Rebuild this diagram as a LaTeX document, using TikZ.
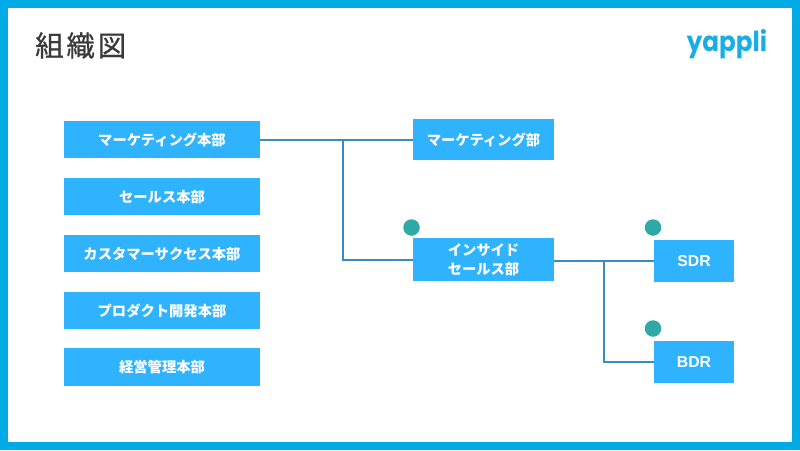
\documentclass[tikz,border=0pt]{standalone}
\usepackage{fontspec}
\setmainfont{Liberation Sans}
\newfontfamily\jpfont{Noto Sans CJK JP}
\newfontfamily\titlefont[FakeBold=0.6]{Noto Sans CJK JP}
\newfontfamily\logofont{Poppins}
\definecolor{frameblue}{HTML}{00AAE4}
\definecolor{boxblue}{HTML}{2FB3FF}
\definecolor{linkblue}{HTML}{3C8AC4}
\definecolor{dotteal}{HTML}{2FA9A5}
\definecolor{titlegrey}{HTML}{3A3A3A}
\definecolor{logoblue}{HTML}{19ADE6}
\tikzset{
 x=1pt,y=-1pt,
 orgbox/.style={fill=boxblue,draw=none,inner sep=0pt,outer sep=0pt,text=white,align=center,
   font=\jpfont\bfseries\fontsize{14.3}{19}\selectfont,anchor=north west,text height=14pt,text depth=2.6pt},
 latinbox/.style={orgbox,font=\bfseries\fontsize{15.8}{19}\selectfont,text height=14pt,text depth=2.6pt},
 link/.style={draw=linkblue,line width=2pt},
 dot/.style={circle,fill=dotteal,draw=none,minimum size=16.5pt,inner sep=0pt},
}
\begin{document}
\begin{tikzpicture}
\useasboundingbox (0,0) rectangle (800,450);
\fill[frameblue] (0,0) rectangle (800,450);
\fill[white] (8,8) rectangle (792,442);
\node[anchor=west,text=titlegrey,font=\titlefont\fontsize{28.5}{32}\selectfont,inner sep=0pt] (title) at (35,45.5) {組\kern2.8pt 織\kern2.8pt 図};
\node[anchor=center,text=logoblue,font=\logofont\bfseries\fontsize{24.6}{30}\selectfont,inner sep=0pt,yscale=1.12,transform shape] (logo) at (727,44) {yappli};
\node[orgbox,minimum width=196pt,minimum height=37pt] (a) at (64,121) {マーケティング本部};
\node[orgbox,minimum width=196pt,minimum height=37pt] (b) at (64,178) {セールス本部};
\node[orgbox,minimum width=196pt,minimum height=37pt] (c) at (64,235) {カスタマーサクセス本部};
\node[orgbox,minimum width=196pt,minimum height=37pt] (d) at (64,292) {プロダクト開発本部};
\node[orgbox,minimum width=196pt,minimum height=38pt] (e) at (64,348) {経営管理本部};
\node[orgbox,minimum width=141pt,minimum height=41pt] (m) at (413,119) {マーケティング部};
\node[orgbox,minimum width=141pt,minimum height=43pt,text height=32pt,text depth=2pt] (i) at (413,238) {インサイド\\セールス部};
\node[latinbox,minimum width=80pt,minimum height=42pt] (s) at (654,240) {SDR};
\node[latinbox,minimum width=80pt,minimum height=42pt] (r) at (654,341) {BDR};
\node[dot] (d1) at (411.5,227.5) {};
\node[dot] (d2) at (653,227.5) {};
\node[dot] (d3) at (653,328.5) {};
\coordinate (j1) at (343,139.5);
\coordinate (j2) at (604,261);
\draw[link] (a.east) -- (m.west);
\draw[link] (j1) |- (i.west);
\draw[link] (i.east |- s.west) -- (s.west);
\draw[link] (j2) |- (r.west);
\end{tikzpicture}
\end{document}
